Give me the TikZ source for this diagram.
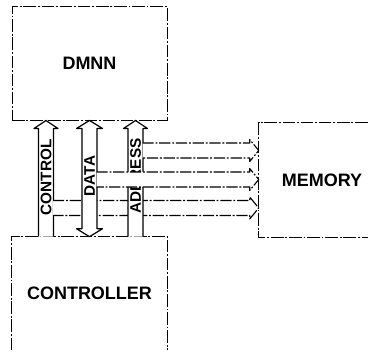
\documentclass[tikz,border=0pt]{standalone}
\usepackage{fontspec}
\setmainfont{Liberation Sans}
\usetikzlibrary{calc}

\tikzset{
  blocktext/.style={font=\fontsize{12.8}{14}\selectfont\bfseries, inner sep=0pt},
  buslabel/.style={font=\fontsize{10.9}{12}\selectfont\bfseries, rotate=90, inner sep=0pt},
  boxedge/.style={line width=0.7pt, dash pattern=on 9pt off 1.3pt on 1.3pt off 1.3pt},
  shaft/.style={draw, fill=white, line width=0.85pt, line join=round},
  busband/.style={draw, fill=white, line width=0.8pt, line join=round,
    dash pattern=on 8pt off 1.3pt on 1.3pt off 1.3pt}
}

\begin{document}
\begin{tikzpicture}[x=0.25mm,y=0.25mm]
  \path[use as bounding box] (0,0) rectangle (379,353);

  % blocks
  \node[blocktext, draw, boxedge, minimum width=38.75mm, minimum height=28.25mm] (dmnn) at (89.5,289.5) {DMNN};
  \node[blocktext, minimum width=38.75mm, minimum height=28.25mm] (ctrl) at (89.5,59.5) {CONTROLLER};
  \draw[boxedge] (ctrl.south west) |- (ctrl.north east) -- (ctrl.south east);
  \node[blocktext, minimum width=31.5mm, minimum height=28.5mm] (memory) at (322,173) {MEMORY};
  \draw[boxedge] ($(memory.north west)+(109,0)$) -- (memory.north west) -- (memory.south west) -- ($(memory.south west)+(109,0)$);

  % bus positions
  \coordinate (ctlx) at (46,0);
  \coordinate (datx) at (89.5,0);
  \coordinate (adrx) at (135.5,0);
  \coordinate (ctlrow) at (0,145);
  \coordinate (datrow) at (0,173.5);
  \coordinate (adrrow) at (0,202.5);

  % control bus
  \filldraw[shaft] ($(ctlx |- ctrl.north)+(-7.5,0)$) -- ($(ctlx |- dmnn.south)+(-7.5,-8)$) -- ($(ctlx |- dmnn.south)+(-12,-8)$)
    -- (ctlx |- dmnn.south) -- ($(ctlx |- dmnn.south)+(12,-8)$) -- ($(ctlx |- dmnn.south)+(7.5,-8)$) -- ($(ctlx |- ctrl.north)+(7.5,0)$);
  \node[buslabel] (ctllabel) at (46,175.5) {CONTROL};
  \filldraw[busband] ($(ctlx |- ctlrow)+(7,7.5)$) -- ($(memory.west |- ctlrow)+(-9,7.5)$) -- ($(memory.west |- ctlrow)+(-9,11)$)
    -- (memory.west |- ctlrow) -- ($(memory.west |- ctlrow)+(-9,-11)$) -- ($(memory.west |- ctlrow)+(-9,-7.5)$) -- ($(ctlx |- ctlrow)+(7,-7.5)$);

  % address bus
  \filldraw[shaft] ($(adrx |- ctrl.north)+(-7.5,0)$) -- ($(adrx |- dmnn.south)+(-7.5,-8)$) -- ($(adrx |- dmnn.south)+(-12,-8)$)
    -- (adrx |- dmnn.south) -- ($(adrx |- dmnn.south)+(12,-8)$) -- ($(adrx |- dmnn.south)+(7.5,-8)$) -- ($(adrx |- ctrl.north)+(7.5,0)$);
  \node[buslabel] (adrlabel) at (135.5,177) {ADDRESS};
  \filldraw[busband] ($(adrx |- adrrow)+(7,7.5)$) -- ($(memory.west |- adrrow)+(-9,7.5)$) -- ($(memory.west |- adrrow)+(-9,11)$)
    -- (memory.west |- adrrow) -- ($(memory.west |- adrrow)+(-9,-11)$) -- ($(memory.west |- adrrow)+(-9,-7.5)$) -- ($(adrx |- adrrow)+(7,-7.5)$);

  % data bus
  \filldraw[shaft] (datx |- ctrl.north) -- ($(datx |- ctrl.north)+(-13,8)$) -- ($(datx |- ctrl.north)+(-7.5,8)$)
    -- ($(datx |- dmnn.south)+(-7.5,-8)$) -- ($(datx |- dmnn.south)+(-13,-8)$) -- (datx |- dmnn.south)
    -- ($(datx |- dmnn.south)+(13,-8)$) -- ($(datx |- dmnn.south)+(7.5,-8)$) -- ($(datx |- ctrl.north)+(7.5,8)$)
    -- ($(datx |- ctrl.north)+(13,8)$) -- cycle;
  \node[buslabel] (datlabel) at (89.5,177) {DATA};
  \filldraw[busband] ($(datx |- datrow)+(7,7.5)$) -- ($(memory.west |- datrow)+(-9,7.5)$) -- ($(memory.west |- datrow)+(-9,11)$)
    -- (memory.west |- datrow) -- ($(memory.west |- datrow)+(-9,-11)$) -- ($(memory.west |- datrow)+(-9,-7.5)$) -- ($(datx |- datrow)+(7,-7.5)$);
\end{tikzpicture}
\end{document}
